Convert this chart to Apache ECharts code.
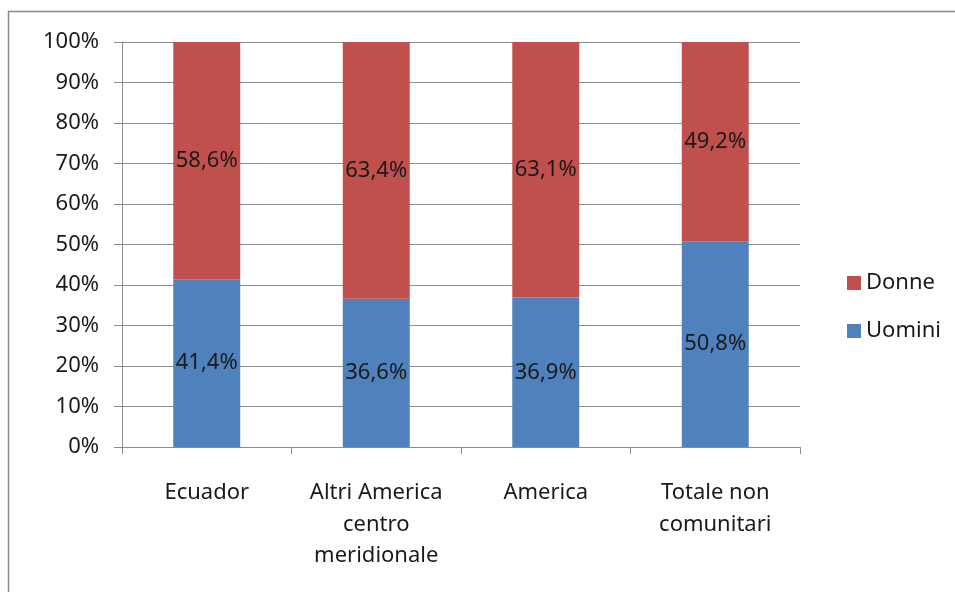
<!DOCTYPE html>
<html>
<head>
<meta charset="utf-8">
<script src="https://cdn.jsdelivr.net/npm/echarts@6/dist/echarts.min.js"></script>
<style>
  html, body { margin: 0; padding: 0; background: #fff; }
  #chart { width: 955px; height: 592px; }
</style>
</head>
<body>
<div id="chart"></div>
<script>
const categories = ['Ecuador', 'Altri America\ncentro\nmeridionale', 'America', 'Totale non\ncomunitari'];
const uomini = [41.4, 36.6, 36.9, 50.8];
const donne = [58.6, 63.4, 63.1, 49.2];

const FONT = '"Noto Sans", sans-serif';
const GRID_COLOR = '#8c8c8c';

function pct(v) {
  return v.toFixed(1).replace('.', ',') + '%';
}

const chart = echarts.init(document.getElementById('chart'));

chart.setOption({
  animation: false,
  textStyle: { fontFamily: FONT },
  graphic: [
    {
      type: 'rect',
      shape: { x: 8.5, y: 11.5, width: 1200, height: 1200 },
      style: { fill: 'none', stroke: '#8a8a8a', lineWidth: 1.5 },
      silent: true
    }
  ],
  grid: { left: 122, right: 155, top: 42, bottom: 145 },
  legend: {
    data: ['Donne', 'Uomini'],
    orient: 'vertical',
    left: 842,
    top: 267,
    itemWidth: 14,
    itemHeight: 14,
    itemGap: 26,
    icon: 'rect',
    textStyle: { fontFamily: FONT, fontSize: 22, color: '#1a1a1a', lineHeight: 22 }
  },
  xAxis: {
    type: 'category',
    data: categories,
    axisLine: { lineStyle: { color: GRID_COLOR, width: 1 } },
    axisTick: { show: true, length: 7, lineStyle: { color: GRID_COLOR } },
    axisLabel: {
      margin: 30,
      fontFamily: FONT,
      fontSize: 22,
      lineHeight: 31.5,
      color: '#1a1a1a',
      interval: 0
    }
  },
  yAxis: {
    type: 'value',
    min: 0,
    max: 100,
    interval: 10,
    axisLine: { show: true, lineStyle: { color: GRID_COLOR, width: 1 } },
    axisTick: { show: true, length: 8, lineStyle: { color: GRID_COLOR } },
    splitLine: { lineStyle: { color: GRID_COLOR, width: 1 } },
    axisLabel: {
      formatter: '{value}%',
      margin: 23,
      fontFamily: FONT,
      fontSize: 22,
      color: '#1a1a1a'
    }
  },
  series: [
    {
      name: 'Uomini',
      type: 'bar',
      stack: 'tot',
      data: uomini,
      barWidth: '39.5%',
      itemStyle: { color: '#4f81bd' },
      label: {
        show: true,
        position: 'inside',
        formatter: p => pct(p.value),
        fontFamily: FONT,
        fontSize: 22,
        color: '#1a1a1a'
      }
    },
    {
      name: 'Donne',
      type: 'bar',
      stack: 'tot',
      data: donne,
      barWidth: '39.5%',
      itemStyle: { color: '#c0504d' },
      label: {
        show: true,
        position: 'inside',
        formatter: p => pct(p.value),
        fontFamily: FONT,
        fontSize: 22,
        color: '#1a1a1a'
      }
    }
  ]
});
</script>
</body>
</html>
